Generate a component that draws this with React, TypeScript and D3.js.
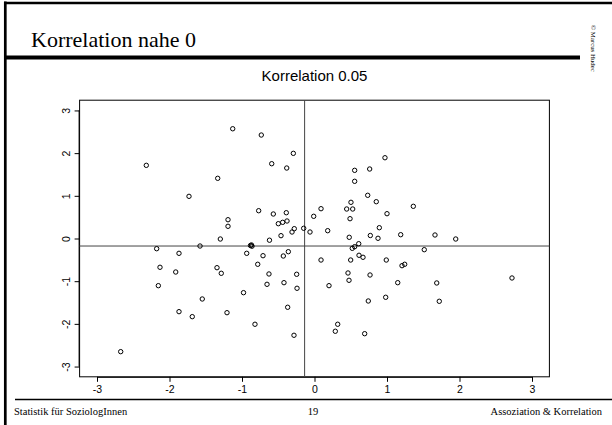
import React, { useEffect, useRef } from "react";
import * as d3 from "d3";

const xValues: number[] = [
  -1.128, -0.734, -0.292, -2.32, -0.59, -0.383, 0.972, -1.335, 0.554, 0.761,
  0.554, -1.731, 0.734, 0.852, 0.503, 1.363, 0.444, 0.527, 0.09, -0.77,
  -0.568, -0.389, 1.0, -0.011, 0.49, -1.193, -1.193, -0.499, -0.439, -0.379,
  0.894, -0.279, -0.149, -0.31, -0.062, 0.182, -0.462, 1.189, 1.662, 0.77,
  0.479, 0.876, -1.299, 1.948, -0.621, -0.883, -0.869, -0.862, -2.177, -1.579,
  -1.869, -0.935, -0.71, -0.43, -0.361, 0.61, 0.554, 0.521, 1.514, -0.783,
  -2.131, -1.345, -1.286, -1.914, 0.09, 0.499, 0.614, 0.669, 0.99, 1.207,
  1.244, -0.628, -0.246, 0.462, 0.476, 0.766, 2.724, -0.655, -0.421, -2.154,
  0.2, 1.148, 1.686, -0.241, -0.979, -1.548, 0.982, 0.742, 1.721, -0.37,
  -1.869, -1.207, -1.686, -0.821, 0.32, 0.287, 0.692, -0.283, -2.673,
];

const yValues: number[] = [
  2.571, 2.424, 1.995, 1.714, 1.752, 1.651, 1.892, 1.41, 1.597, 1.628,
  1.34, 0.988, 1.012, 0.862, 0.848, 0.754, 0.691, 0.691, 0.698, 0.651,
  0.574, 0.604, 0.581, 0.52, 0.464, 0.44, 0.286, 0.347, 0.379, 0.41,
  0.253, 0.23, 0.239, 0.152, 0.152, 0.183, 0.066, 0.089, 0.082, 0.07,
  0.028, 0.005, -0.012, -0.012, -0.04, -0.164, -0.152, -0.18, -0.239, -0.176,
  -0.347, -0.347, -0.403, -0.41, -0.309, -0.122, -0.192, -0.23, -0.262, -0.604,
  -0.674, -0.684, -0.815, -0.785, -0.504, -0.504, -0.393, -0.44, -0.504, -0.637,
  -0.604, -0.831, -0.838, -0.808, -0.979, -0.855, -0.925, -1.073, -1.035, -1.105,
  -1.105, -1.035, -1.042, -1.166, -1.269, -1.417, -1.377, -1.464, -1.471, -1.611,
  -1.714, -1.738, -1.831, -2.009, -2.009, -2.173, -2.23, -2.267, -2.651,
];

const axisTicks: number[] = [-3, -2, -1, 0, 1, 2, 3];
const pageTitle = "Korrelation nahe 0";
const plotTitle = "Korrelation 0.05";
const footerLeft = "Statistik für SoziologInnen";
const footerCenter = "19";
const footerRight = "Assoziation & Korrelation";
const copyright = "© Marcus Hudec";

const W = 612;
const H = 425;
const plotLeft = 79.6;
const plotRight = 549.4;
const plotTop = 100.2;
const plotBottom = 376.8;
const domainLim = 3.24;

export default function App() {
  const xAxisRef = useRef<SVGGElement>(null);
  const yAxisRef = useRef<SVGGElement>(null);

  const x = d3.scaleLinear().domain([-domainLim, domainLim]).range([plotLeft, plotRight]);
  const y = d3.scaleLinear().domain([-domainLim, domainLim]).range([plotBottom, plotTop]);

  const points = xValues.map((v, i) => ({ x: v, y: yValues[i] }));
  const meanX = d3.mean(xValues) as number;
  const meanY = d3.mean(yValues) as number;
  const fmt = (d: any) => String(d);

  useEffect(() => {
    if (xAxisRef.current) {
      const g = d3.select(xAxisRef.current);
      g.call(d3.axisBottom(x).tickValues(axisTicks).tickSize(5).tickPadding(4).tickFormat(fmt) as any);
      g.select(".domain").attr("d", `M${x(-3)},0.5H${x(3)}`);
      g.selectAll("text")
        .attr("font-family", "'Liberation Sans', Arial, sans-serif")
        .attr("font-size", 10.5)
        .attr("fill", "#000");
    }
    if (yAxisRef.current) {
      const g = d3.select(yAxisRef.current);
      g.call(d3.axisLeft(y).tickValues(axisTicks).tickSize(5).tickFormat(fmt) as any);
      g.select(".domain").attr("d", `M-0.5,${y(-3)}V${y(3)}`);
      g.selectAll(".tick text")
        .attr("font-family", "'Liberation Sans', Arial, sans-serif")
        .attr("font-size", 10.5)
        .attr("fill", "#000")
        .attr("x", null)
        .attr("dy", null)
        .attr("text-anchor", "middle")
        .attr("transform", "translate(-14,0) rotate(-90)")
        .attr("dominant-baseline", "central");
    }
  }, []);

  return (
    <svg
      width={W}
      height={H}
      viewBox={`0 0 ${W} ${H}`}
      style={{ position: "absolute", left: 0, top: 0, background: "#fff" }}
    >
      <rect x={0} y={0} width={W} height={H} fill="#fff" />
      <line x1={4} x2={W} y1={3} y2={3} stroke="#000" strokeWidth={2.5} />
      <line x1={5.3} x2={5.3} y1={1.5} y2={H} stroke="#000" strokeWidth={2.7} />
      <line x1={5} x2={580} y1={57.5} y2={57.5} stroke="#000" strokeWidth={4} />
      <line x1={15} x2={W} y1={399.5} y2={399.5} stroke="#000" strokeWidth={1.5} />

      <text x={31} y={47} fontFamily="'Liberation Serif', 'Times New Roman', serif" fontSize={22} fill="#000">
        {pageTitle}
      </text>
      <text
        transform="translate(591,25) rotate(90)"
        fontFamily="'Liberation Serif', 'Times New Roman', serif"
        fontSize={6.8}
        fill="#000"
      >
        {copyright}
      </text>

      <text
        x={(plotLeft + plotRight) / 2}
        y={81}
        textAnchor="middle"
        fontFamily="'Liberation Sans', Arial, sans-serif"
        fontSize={15}
        fill="#000"
      >
        {plotTitle}
      </text>

      <rect
        x={plotLeft}
        y={plotTop}
        width={plotRight - plotLeft}
        height={plotBottom - plotTop}
        fill="none"
        stroke="#000"
        strokeWidth={1}
      />
      <g ref={xAxisRef} transform={`translate(0,${plotBottom})`} />
      <g ref={yAxisRef} transform={`translate(${plotLeft},0)`} />

      <line x1={x(meanX)} x2={x(meanX)} y1={plotTop} y2={plotBottom} stroke="#444" strokeWidth={1} />
      <line x1={plotLeft} x2={plotRight} y1={y(meanY)} y2={y(meanY)} stroke="#444" strokeWidth={1} />

      {points.map((p, i) => (
        <circle key={i} cx={x(p.x)} cy={y(p.y)} r={2.2} fill="none" stroke="#000" strokeWidth={1} />
      ))}

      <g fontFamily="'Liberation Serif', 'Times New Roman', serif" fontSize={10.5} fill="#000">
        <text x={14} y={414.5}>{footerLeft}</text>
        <text x={313} y={414.5} textAnchor="middle">{footerCenter}</text>
        <text x={602} y={414.5} textAnchor="end">{footerRight}</text>
      </g>
    </svg>
  );
}
